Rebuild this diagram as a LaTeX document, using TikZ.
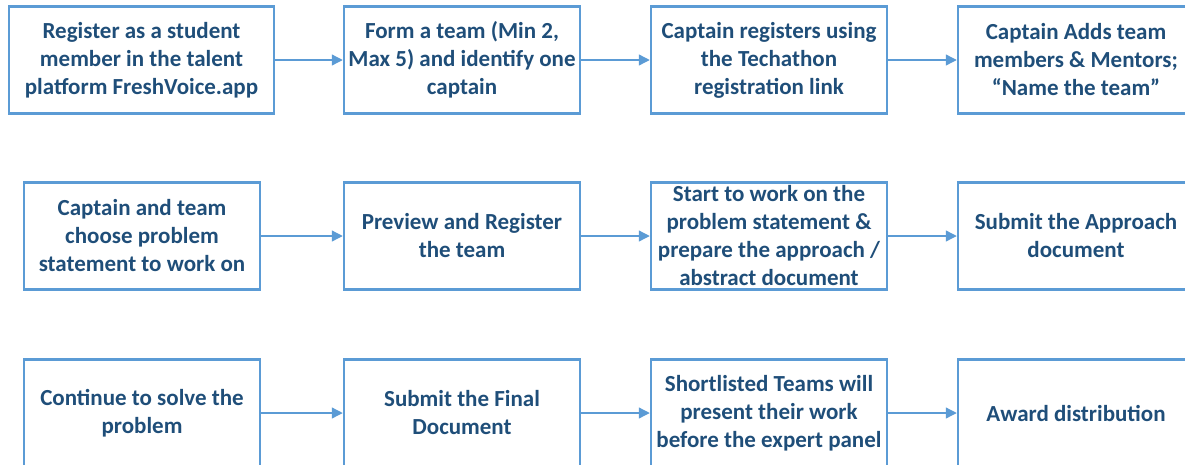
\documentclass[tikz,border=0pt]{standalone}
\usepackage{fontspec}
\setmainfont{Carlito}
\usetikzlibrary{arrows.meta}
\definecolor{boxblue}{HTML}{5B9BD5}
\definecolor{textblue}{HTML}{1F4E79}

\begin{document}
\begin{tikzpicture}[x=1pt,y=-1pt,
  stage/.style={draw=boxblue, line width=2.5pt, rectangle, minimum width=236pt, minimum height=107pt,
    align=center, inner sep=0pt, text=textblue, font=\fontsize{23}{28}\selectfont\bfseries},
  flow/.style={draw=boxblue, line width=1.3pt, -{Triangle[length=11pt,width=11pt]}}]
\useasboundingbox (0,0) rectangle (1185,464);

% first row
\node[stage, minimum width=265pt] (reg) at (141.5,60) {Register as a student\\member in the talent\\platform FreshVoice.app};
\node[stage] (team) at (462,60) {Form a team (Min 2,\\Max 5) and identify one\\captain};
\node[stage] (link) at (769,60) {Captain registers using\\the Techathon\\registration link};
\node[stage] (mentors) at (1076,60) {Captain Adds team\\members \& Mentors;\\``Name the team''};

% second row
\node[stage] (choose) at (142,236) {Captain and team\\choose problem\\statement to work on};
\node[stage] (preview) at (462,236) {Preview and Register\\the team};
\node[stage] (work) at (769,236) {Start to work on the\\problem statement \&\\prepare the approach /\\abstract document};
\node[stage] (approach) at (1076,236) {Submit the Approach\\document};

% third row
\node[stage] (solve) at (142,413) {Continue to solve the\\problem};
\node[stage] (final) at (462,413) {Submit the Final\\Document};
\node[stage] (panel) at (769,413) {Shortlisted Teams will\\present their work\\before the expert panel};
\node[stage] (award) at (1076,413) {Award distribution};

\draw[flow] (reg) -- (team);
\draw[flow] (team) -- (link);
\draw[flow] (link) -- (mentors);
\draw[flow] (choose) -- (preview);
\draw[flow] (preview) -- (work);
\draw[flow] (work) -- (approach);
\draw[flow] (solve) -- (final);
\draw[flow] (final) -- (panel);
\draw[flow] (panel) -- (award);
\end{tikzpicture}
\end{document}
